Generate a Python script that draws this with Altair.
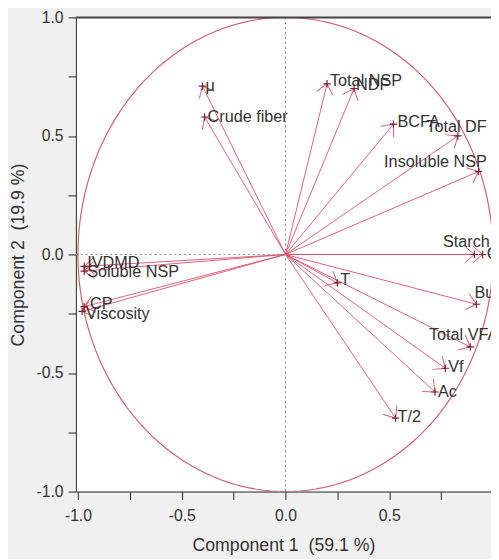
import altair as alt
import pandas as pd

# ---- data ----
names = ["μ", "Crude fiber", "Total NSP", "NDF", "BCFA", "Total DF", "Insoluble NSP",
         "Starch", "GE", "T", "Bu", "Total VFA", "Vf", "Ac", "T/2",
         "IVDMD", "Soluble NSP", "CP", "Viscosity"]
comp1 = [-0.40, -0.39, 0.20, 0.33, 0.52, 0.83, 0.93,
         0.91, 0.95, 0.25, 0.92, 0.89, 0.77, 0.72, 0.53,
         -0.97, -0.97, -0.97, -0.98]
comp2 = [0.71, 0.58, 0.72, 0.70, 0.55, 0.50, 0.35,
         0.00, 0.00, -0.12, -0.21, -0.39, -0.48, -0.58, -0.69,
         -0.05, -0.07, -0.22, -0.24]
x_ticks = [-1.0, -0.75, -0.5, -0.25, 0.0, 0.25, 0.5, 0.75]
y_ticks = [-1.0, -0.75, -0.5, -0.25, 0.0, 0.25, 0.5, 0.75, 1.0]
x_title = "Component 1\u00a0 (59.1\u00a0%)"
y_title = "Component 2\u00a0 (19.9\u00a0%)"

# ---- layout / style ----
W, H = 422, 482
XDOM = [-1.01, 0.99]
YDOM = [-1.0, 1.0]
KX = W / (XDOM[1] - XDOM[0])
KY = H / (YDOM[1] - YDOM[0])
FONT = "Liberation Sans"
ARROW = "#d9506a"
MARK = "#7a1f2e"
TEXT = "#333333"

# label nudges in pixels (dx, dy)
LABEL_NUDGE = {
    "μ": (3, 0), "Crude fiber": (3, 0), "Total NSP": (3, -3), "NDF": (2, -3),
    "BCFA": (4, -2), "Total DF": (-32, -9), "Insoluble NSP": (-96, -10),
    "Starch": (-32, -13), "GE": (4, 0), "T": (3, -3), "Bu": (-2, -11),
    "Total VFA": (-42, -12), "Vf": (3, -1), "Ac": (3, 0), "T/2": (2, -1),
    "IVDMD": (3, -3), "Soluble NSP": (3, 1), "CP": (6, -3), "Viscosity": (4, 3),
}

df = pd.DataFrame({"name": names, "x": comp1, "y": comp2})
df["ndx"] = [LABEL_NUDGE[n][0] for n in names]
df["ndy"] = [LABEL_NUDGE[n][1] for n in names]

xscale = alt.Scale(domain=XDOM, nice=False, zero=False)
yscale = alt.Scale(domain=YDOM, nice=False, zero=False)

label_expr = ("abs(datum.value*2 - round(datum.value*2)) < 0.001 ? "
              "replace(format(datum.value, '.1f'), '\u2212', '-') : ''")

common_axis = dict(grid=False, labelExpr=label_expr, tickSize=8,
                   labelFont=FONT, titleFont=FONT, labelFontSize=16, titleFontSize=18,
                   labelColor="#333", titleColor="#333", titleFontWeight="normal",
                   domainColor="#222", tickColor="#222", labelFlush=False)
xaxis = alt.Axis(values=x_ticks, labelPadding=8, titlePadding=14, **common_axis)
yaxis = alt.Axis(values=y_ticks, labelPadding=5, titlePadding=9, **common_axis)


def X(field):
    return alt.X(field, type="quantitative", scale=xscale, axis=xaxis, title=x_title)


def Y(field):
    return alt.Y(field, type="quantitative", scale=yscale, axis=yaxis, title=y_title)


base = alt.Chart(df)

refdf = pd.DataFrame({"v": [0.0]})
vref = alt.Chart(refdf).mark_rule(color="#888", strokeDash=[2, 3], strokeWidth=1).encode(x=X("v"))
href = alt.Chart(refdf).mark_rule(color="#888", strokeDash=[2, 3], strokeWidth=1).encode(y=Y("v"))
topline = alt.Chart(refdf).mark_rule(color="#444", strokeWidth=2).encode(y=alt.value(0))

circle = (
    alt.Chart(alt.sequence(0, 362, 2, as_="deg"))
    .transform_calculate(cx="cos(datum.deg*PI/180)", cy="sin(datum.deg*PI/180)")
    .mark_line(color="#d06070", strokeWidth=1.2, clip=True)
    .encode(x=X("cx"), y=Y("cy"), order="deg:Q")
)

vectors = (
    base.transform_calculate(ox="0", oy="0")
    .mark_rule(color=ARROW, strokeWidth=1, opacity=0.9, clip=True)
    .encode(x=X("ox"), y=Y("oy"), x2="x:Q", y2="y:Q")
)

heads = (
    base.transform_calculate(
        ang=f"(atan2(-datum.y*{KY}, datum.x*{KX})*180/PI + 360) % 360")
    .mark_point(shape="M-1,-0.85L0,0L-1,0.85", filled=False, size=400,
                strokeWidth=1, color=ARROW, opacity=0.9, clip=True)
    .encode(x=X("x"), y=Y("y"), angle=alt.Angle("ang:Q", scale=None))
)

plus = (
    base.mark_point(shape="M-1,0L1,0M0,-1L0,1", filled=False, size=56,
                    strokeWidth=1.2, color=MARK, opacity=1, clip=True)
    .encode(x=X("x"), y=Y("y"))
)

labels = (
    base.transform_calculate(lx=f"datum.x + datum.ndx/{KX}", ly=f"datum.y - datum.ndy/{KY}")
    .mark_text(align="left", baseline="middle", font=FONT, fontSize=16.5, color=TEXT, clip=True)
    .encode(x=X("lx"), y=Y("ly"), text="name:N")
)

chart = (
    alt.layer(vref, href, circle, vectors, heads, plus, labels, topline)
    .properties(
        width=W, height=H,
        autosize=alt.AutoSizeParams(type="none"),
        padding={"left": 69, "top": 5, "right": 0, "bottom": 64},
        background="#f0f0f0",
    )
    .configure_view(fill="white", strokeWidth=0)
)

chart.save("out.html", embed_options={"renderer": "svg", "actions": False})
